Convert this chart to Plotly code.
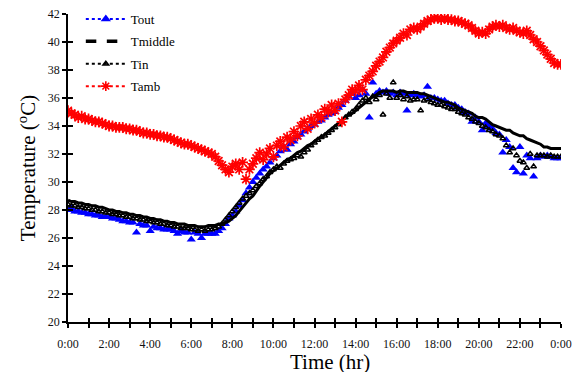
import plotly.graph_objects as go

# time of day in hours, 10-minute logging interval (0:00 .. next 0:00)
time_h = [i / 6 for i in range(145)]

tout = [
    28.0, 28.1, 27.9, 27.9, 27.8, 27.8,
    27.7, 27.7, 27.6, 27.6, 27.5, 27.5,
    27.5, 27.4, 27.4, 27.3, 27.2, 27.2,
    27.1, 27.1, 26.4, 27.0, 26.9, 26.9,
    26.5, 26.8, 26.7, 26.7, 26.6, 26.6,
    26.6, 26.5, 26.3, 26.5, 26.4, 26.4,
    25.9, 26.4, 26.3, 26.0, 26.3, 26.3,
    26.3, 26.3, 26.5, 26.7, 27.0, 27.4,
    27.6, 27.9, 28.3, 28.7, 29.2, 29.6,
    30.0, 30.3, 30.6, 30.9, 31.1, 31.4,
    31.7, 31.9, 32.2, 32.5, 32.3, 32.7,
    32.9, 33.2, 33.4, 33.6, 33.8, 34.0,
    34.1, 34.3, 34.4, 34.6, 34.8, 34.9,
    35.0, 35.3, 35.5, 35.8, 36.1, 36.3,
    36.0, 36.2, 36.6, 36.3, 34.6, 37.1,
    36.3, 36.5, 36.4, 36.5, 36.3, 36.4,
    36.2, 36.4, 36.3, 35.1, 36.2, 36.3,
    36.2, 36.1, 36.2, 36.8, 36.0, 36.0,
    35.9, 35.8, 35.8, 35.6, 35.5, 35.5,
    35.3, 35.2, 35.0, 34.9, 34.3, 34.6,
    34.3, 33.7, 34.2, 34.0, 33.8, 33.5,
    33.4, 32.1, 33.0, 32.5, 31.0, 30.7,
    32.5, 30.6, 31.9, 31.7, 30.4, 31.7,
    31.9, 31.8, 31.9, 31.8, 31.7, 31.7,
    31.7,
]

tmiddle = [
    28.7, 28.6, 28.6, 28.5, 28.5, 28.4,
    28.4, 28.3, 28.3, 28.2, 28.2, 28.1,
    28.0, 28.0, 27.9, 27.9, 27.8, 27.8,
    27.7, 27.7, 27.6, 27.6, 27.5, 27.5,
    27.4, 27.4, 27.3, 27.3, 27.2, 27.2,
    27.1, 27.1, 27.0, 27.0, 27.0, 26.9,
    26.9, 26.9, 26.8, 26.8, 26.8, 26.9,
    26.9, 26.9, 27.0, 27.0, 27.1, 27.2,
    27.4, 27.6, 27.9, 28.2, 28.5, 28.8,
    29.0, 29.4, 29.7, 30.0, 30.3, 30.6,
    30.8, 31.0, 31.2, 31.4, 31.6, 31.7,
    31.9, 32.1, 32.2, 32.4, 32.6, 32.7,
    32.9, 33.1, 33.2, 33.4, 33.6, 33.8,
    34.0, 34.2, 34.4, 34.6, 34.8, 34.9,
    35.1, 35.3, 35.5, 35.7, 35.9, 36.1,
    36.2, 36.4, 36.5, 36.5, 36.5, 36.5,
    36.4, 36.5, 36.5, 36.4, 36.4, 36.4,
    36.4, 36.3, 36.3, 36.2, 36.1, 36.0,
    35.9, 35.8, 35.7, 35.7, 35.6, 35.5,
    35.3, 35.2, 35.1, 35.0, 34.9, 34.7,
    34.6, 34.6, 34.5, 34.3, 34.1, 34.0,
    33.9, 33.8, 33.7, 33.7, 33.5, 33.4,
    33.3, 33.3, 33.1, 33.0, 32.9, 32.8,
    32.7, 32.5, 32.5, 32.4, 32.4, 32.4,
    32.4,
]

tin = [
    28.4, 28.3, 28.3, 28.2, 28.2, 28.1,
    28.1, 28.0, 28.0, 27.9, 27.9, 27.8,
    27.8, 27.7, 27.7, 27.6, 27.6, 27.5,
    27.5, 27.4, 27.4, 27.3, 27.3, 27.2,
    27.2, 27.1, 27.1, 27.0, 27.0, 26.9,
    26.9, 26.8, 26.8, 26.7, 26.7, 26.7,
    26.6, 26.6, 26.5, 26.6, 26.5, 26.6,
    26.6, 26.7, 26.8, 27.0, 27.3, 27.6,
    27.9, 28.2, 28.5, 28.8, 29.0, 29.2,
    29.4, 29.7, 29.9, 30.2, 30.4, 30.7,
    30.9, 31.1, 31.0, 31.3, 31.5, 31.6,
    31.7, 31.9, 31.8, 32.1, 32.3, 32.6,
    32.8, 33.0, 33.2, 33.3, 33.5, 33.7,
    33.9, 34.1, 34.3, 34.6, 34.8, 35.0,
    35.2, 35.5, 35.8, 36.0, 35.7, 36.1,
    35.9, 36.2, 34.8, 36.3, 36.0, 37.1,
    36.0, 36.2, 35.9, 36.1, 35.8, 35.9,
    35.9, 35.1, 35.8, 35.9, 35.7, 35.6,
    35.5, 35.5, 35.4, 35.3, 35.2, 35.2,
    35.0, 34.9, 34.8, 34.6, 34.5, 34.3,
    34.2, 34.0, 33.9, 33.7, 33.6, 33.4,
    33.3, 33.1, 32.6, 32.1, 32.4, 31.9,
    31.5, 31.4, 31.0, 32.0, 31.1, 31.9,
    31.9, 31.9, 31.8, 31.9, 31.8, 31.8,
    31.8,
]

tamb = [
    35.1, 34.9, 34.8, 34.6, 34.7, 34.5,
    34.5, 34.4, 34.3, 34.3, 34.2, 34.1,
    34.0, 34.0, 33.9, 33.9, 33.9, 33.8,
    33.8, 33.7, 33.7, 33.6, 33.5, 33.5,
    33.4, 33.4, 33.3, 33.3, 33.2, 33.2,
    33.1, 33.0, 32.9, 32.8, 32.7, 32.7,
    32.6, 32.5, 32.4, 32.3, 32.2, 32.1,
    32.0, 31.8, 31.5, 31.2, 30.9, 30.7,
    31.1, 31.3, 30.9, 31.4, 30.2, 30.9,
    31.3, 31.7, 32.1, 31.6, 32.0, 32.4,
    31.8, 32.6, 32.9, 32.5, 33.2, 33.0,
    33.6, 33.3, 34.0, 34.3, 33.8, 34.5,
    34.2, 34.8, 34.6, 35.2, 35.0, 35.5,
    35.1, 35.6, 34.3, 35.9, 36.2, 36.6,
    36.5, 36.9, 36.6, 37.3, 37.6, 37.9,
    38.3, 38.6, 38.9, 39.3, 39.6, 39.9,
    40.1, 40.3, 40.6, 40.5, 40.9, 41.0,
    40.9, 41.1, 41.3, 41.5, 41.6, 41.7,
    41.7, 41.6, 41.7, 41.6, 41.6, 41.5,
    41.5, 41.4, 41.3, 41.2, 41.0, 40.8,
    40.6, 40.7, 40.6, 40.9, 41.1, 41.2,
    41.1, 41.2, 41.0, 40.9, 41.0, 40.8,
    40.7, 40.6, 40.8, 40.5, 40.2, 40.0,
    39.7, 39.4, 39.1, 38.8, 38.5, 38.4,
    38.4,
]

x_tickvals = [0, 2, 4, 6, 8, 10, 12, 14, 16, 18, 20, 22, 24]
x_ticktext = ["0:00", "2:00", "4:00", "6:00", "8:00", "10:00", "12:00",
              "14:00", "16:00", "18:00", "20:00", "22:00", "0:00"]
y_tickvals = [20, 22, 24, 26, 28, 30, 32, 34, 36, 38, 40, 42]

SERIF = "Liberation Serif"
BLUE = "#0000FF"
RED = "#FF0000"

fig = go.Figure()

# data traces (legend drawn separately)
fig.add_trace(go.Scatter(x=time_h, y=tout, mode="markers", showlegend=False,
                         marker=dict(symbol="triangle-up", size=8, color=BLUE)))
fig.add_trace(go.Scatter(x=time_h, y=tmiddle, mode="lines", showlegend=False,
                         line=dict(color="black", width=3)))
fig.add_trace(go.Scatter(x=time_h, y=tin, mode="markers", showlegend=False,
                         marker=dict(symbol="triangle-up-open", size=5, color="black",
                                     line=dict(width=1.5, color="black"))))
fig.add_trace(go.Scatter(x=time_h, y=tamb, mode="markers", showlegend=False,
                         xaxis="x2", yaxis="y2",
                         marker=dict(symbol="asterisk-open", size=9, color=RED,
                                     line=dict(width=1.7, color=RED))))

# legend entries
fig.add_trace(go.Scatter(x=[None], y=[None], mode="lines+markers", name="Tout",
                         legendgroup="a",
                         line=dict(color=BLUE, width=2, dash="dot"),
                         marker=dict(symbol="triangle-up", size=9, color=BLUE)))
fig.add_trace(go.Scatter(x=[None], y=[None], mode="lines", name="Tmiddle",
                         legendgroup="b",
                         line=dict(color="black", width=3.5, dash="dash")))
fig.add_trace(go.Scatter(x=[None], y=[None], mode="lines+markers", name="Tin",
                         legendgroup="c",
                         line=dict(color="black", width=2, dash="dot"),
                         marker=dict(symbol="triangle-up-open", size=5, color="black",
                                     line=dict(width=1.5, color="black"))))
fig.add_trace(go.Scatter(x=[None], y=[None], mode="lines+markers", name="Tamb",
                         legendgroup="d",
                         line=dict(color=RED, width=2, dash="dot"),
                         marker=dict(symbol="asterisk-open", size=8, color=RED,
                                     line=dict(width=1.6, color=RED))))

axis_common = dict(showgrid=False, zeroline=False, showline=True, automargin=False,
                   linecolor="black", linewidth=1.5, tickcolor="black")

fig.update_layout(
    width=572, height=372,
    margin=dict(l=68, r=11, t=14, b=50, autoexpand=False),
    paper_bgcolor="white", plot_bgcolor="white",
    font=dict(family=SERIF, color="black", size=12),
    xaxis=dict(range=[0, 24], tickvals=x_tickvals, ticktext=x_ticktext,
               ticks="outside", ticklen=4, tickwidth=1.5,
               ticklabelstandoff=6, ticklabeloverflow="allow",
               minor=dict(dtick=1, tick0=0, ticks="outside", ticklen=4,
                          tickwidth=1.5, tickcolor="black"),
               tickfont=dict(family=SERIF, size=12, color="#111"),
               **axis_common),
    yaxis=dict(range=[20, 42], tickvals=y_tickvals,
               ticks="outside", ticklen=4, tickwidth=1.5,
               tickfont=dict(family=SERIF, size=12, color="#111"),
               title=dict(text="Temperature (<sup>o</sup>C)",
                          font=dict(family=SERIF, size=21), standoff=6),
               **axis_common),
    xaxis2=dict(range=[0, 24], overlaying="x", anchor="y2", side="bottom",
                tickvals=list(range(25)), ticks="inside", ticklen=4, tickwidth=1.5,
                showticklabels=False, **axis_common),
    yaxis2=dict(range=[20, 42], overlaying="y", anchor="x2", side="left",
                tickvals=y_tickvals, ticks="inside", ticklen=5, tickwidth=1.5,
                showticklabels=False, **axis_common),
    legend=dict(x=0.026, y=1.0325, xanchor="left", yanchor="top",
                bgcolor="rgba(0,0,0,0)", traceorder="grouped",
                tracegroupgap=2.5, itemwidth=40,
                font=dict(family=SERIF, size=13, color="black")),
    annotations=[dict(text="Time (hr)", xref="paper", yref="paper",
                      x=0.531, y=0, xanchor="center", yanchor="top",
                      yshift=-26, showarrow=False,
                      font=dict(family=SERIF, size=21, color="black"))],
)

fig.write_html("out.html")
